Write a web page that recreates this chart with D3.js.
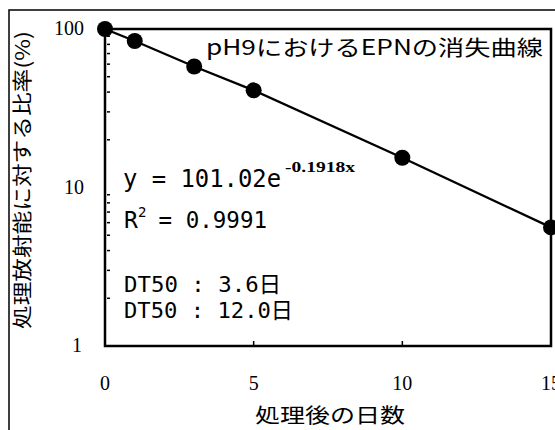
<!DOCTYPE html>
<html><head><meta charset="utf-8">
<script src="https://cdn.jsdelivr.net/npm/d3@7"></script>
<style>body{margin:0;background:#fff}svg{display:block}text{white-space:pre}</style>
</head><body>
<script>
const days = [0, 1, 3, 5, 10, 15];
const percent = [100, 84, 58, 41, 15.4, 5.6];
const xTicks = [0, 5, 10, 15];
const yTicks = [1, 10, 100];
const title = "pH9におけるEPNの消失曲線";
const xTitle = "処理後の日数";
const yTitle = "処理放射能に対する比率(%)";
const eqMain = "y = 101.02e";
const eqExp = "-0.1918x";
const r2Base = "R";
const r2Sup = "2";
const r2Rest = " = 0.9991";
const dtLabels = ["DT50 : 3.6日", "DT50 : 12.0日"];

const W = 555, H = 430;
const m = {left: 105, right: 551, top: 29, bottom: 346};
const svg = d3.select("body").append("svg").attr("width", W).attr("height", H);

// outer frame
svg.append("path").attr("d", `M9,${H} V10 H${W}`).attr("fill","none").attr("stroke","#000").attr("stroke-width",1.5);

const x = d3.scaleLinear().domain([0, 15]).range([m.left, m.right]);
const y = d3.scaleLog().domain([1, 100]).range([m.bottom, m.top]);

// minor ticks (inward on left axis)
const minor = [];
for (const d of [1, 10]) for (let k = 2; k <= 9; k++) minor.push(d * k);
svg.append("g").selectAll("line").data(minor).join("line")
  .attr("x1", m.left + 2).attr("x2", m.left + 5)
  .attr("y1", d => y(d)).attr("y2", d => y(d))
  .attr("stroke", "#000").attr("stroke-width", 1.5);

// x inner ticks
svg.append("g").selectAll("line").data(xTicks.slice(1, 3)).join("line")
  .attr("x1", d => x(d)).attr("x2", d => x(d))
  .attr("y1", m.bottom - 5).attr("y2", m.bottom)
  .attr("stroke", "#000").attr("stroke-width", 1.5);

// plot frame
svg.append("rect").attr("x", m.left).attr("y", m.top)
  .attr("width", m.right - m.left).attr("height", m.bottom - m.top)
  .attr("fill", "none").attr("stroke", "#000").attr("stroke-width", 2.5);

// y tick labels
svg.append("g").selectAll("text").data(yTicks).join("text")
  .attr("x", d => d === 1 ? 82 : 84).attr("y", d => y(d) + 6)
  .attr("text-anchor", "end")
  .attr("font-family", "Liberation Serif").attr("font-size", 20)
  .text(d => d);

// x tick labels
svg.append("g").selectAll("text").data(xTicks).join("text")
  .attr("x", d => x(d)).attr("y", 390)
  .attr("text-anchor", "middle")
  .attr("font-family", "Liberation Serif").attr("font-size", 20)
  .text(d => d);

// line
const pts = days.map((d, i) => [d, percent[i]]);
svg.append("path").datum(pts)
  .attr("d", d3.line().x(d => x(d[0])).y(d => y(d[1])))
  .attr("fill", "none").attr("stroke", "#000").attr("stroke-width", 2.4);

svg.append("g").selectAll("circle").data(pts).join("circle")
  .attr("cx", d => x(d[0])).attr("cy", d => y(d[1])).attr("r", 8).attr("fill", "#000");

const jp = "'Noto Sans CJK JP', sans-serif";
const mono = "'DejaVu Sans Mono', 'Noto Sans CJK JP', monospace";

// title
svg.append("text").attr("x", 206).attr("y", 55)
  .attr("font-family", jp).attr("font-size", 21)
  .attr("textLength", 337).attr("lengthAdjust", "spacingAndGlyphs")
  .text(title);

// equation (single text with superscript tspan)
const eq = svg.append("text").attr("x", 123).attr("y", 187)
  .attr("font-family", mono).attr("font-size", 24);
eq.append("tspan").attr("textLength", 158).attr("lengthAdjust", "spacingAndGlyphs").text(eqMain);
eq.append("tspan").attr("x", 285).attr("dy", -15)
  .attr("font-family", "Liberation Serif").attr("font-size", 15).attr("font-weight", "bold")
  .attr("textLength", 70).attr("lengthAdjust", "spacingAndGlyphs")
  .text(eqExp);

const r2 = svg.append("text").attr("x", 124).attr("y", 228)
  .attr("font-family", mono).attr("font-size", 23);
r2.append("tspan").text(r2Base);
r2.append("tspan").attr("x", 138).attr("dy", -11).attr("font-size", 14).text(r2Sup);
r2.append("tspan").attr("x", 145).attr("dy", 11)
  .attr("textLength", 122).attr("lengthAdjust", "spacingAndGlyphs").text(r2Rest);

svg.append("g").selectAll("text").data(dtLabels).join("text")
  .attr("x", 124).attr("y", (d, i) => 292 + i * 26)
  .attr("font-family", mono).attr("font-size", 22)
  .attr("textLength", (d, i) => i === 0 ? 157 : 169).attr("lengthAdjust", "spacingAndGlyphs")
  .text(d => d);

// axis titles
svg.append("text").attr("x", 330).attr("y", 423)
  .attr("text-anchor", "middle")
  .attr("font-family", jp).attr("font-size", 20)
  .attr("textLength", 150).attr("lengthAdjust", "spacingAndGlyphs")
  .text(xTitle);

svg.append("text")
  .attr("transform", "translate(30,180) rotate(-90)")
  .attr("text-anchor", "middle")
  .attr("font-family", jp).attr("font-size", 20)
  .attr("textLength", 298).attr("lengthAdjust", "spacingAndGlyphs")
  .text(yTitle);
</script>
</body></html>
